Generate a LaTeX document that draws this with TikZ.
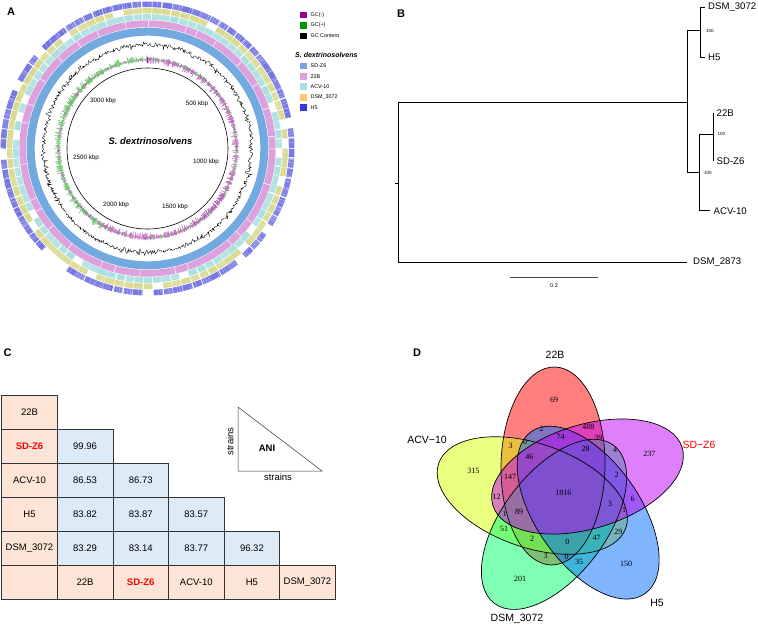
\documentclass[tikz,border=0pt]{standalone}
\usepackage{fontspec}
\setmainfont{Liberation Sans}
\newfontfamily\numfont{Liberation Serif}
\usepackage{tikz}
\usetikzlibrary{positioning,calc}
% legend colours
\definecolor{gcneg}{HTML}{990099}
\definecolor{gcpos}{HTML}{009900}
\definecolor{sdzc}{HTML}{7B9FE3}
\definecolor{tbc}{HTML}{E09EE0}
\definecolor{acvc}{HTML}{A7E0E6}
\definecolor{dsmc}{HTML}{FFC86E}
\definecolor{hfc}{HTML}{3434E8}
% ring colours
\definecolor{sdzring}{HTML}{72AADF}
\definecolor{tbring}{HTML}{DDA2DD}
\definecolor{acvring}{HTML}{A9DFDF}
\definecolor{dsmring}{HTML}{D9D98F}
\definecolor{hfring}{HTML}{7373E3}
\definecolor{skewneg}{HTML}{A010A0}
\definecolor{skewpos}{HTML}{20A820}
% table colours
\definecolor{peachc}{HTML}{FCE4D6}
\definecolor{anic}{HTML}{DDEBF7}
% venn colours
\definecolor{vred}{HTML}{FF0000}
\definecolor{vyel}{HTML}{D5FF00}
\definecolor{vgrn}{HTML}{00FF69}
\definecolor{vblu}{HTML}{0069FF}
\definecolor{vpur}{HTML}{C000F4}

\begin{document}
\begin{tikzpicture}[x=1pt, y=-1pt,
  plab/.style={font=\bfseries\fontsize{11}{13}\selectfont, inner sep=0pt},
  kbp/.style={font=\fontsize{6.3}{7}\selectfont, inner sep=0pt},
  lsq/.style={minimum size=6.5pt, inner sep=0pt},
  ltx/.style={font=\fontsize{5.4}{6}\selectfont, inner sep=0pt},
  leaf/.style={font=\fontsize{9.6}{11}\selectfont, anchor=west, inner sep=0pt},
  boot/.style={font=\fontsize{4.5}{5}\selectfont, anchor=west, inner sep=0pt},
  hdr/.style={draw=black!80, line width=0.6pt, fill=peachc, minimum width=55.6pt,
              minimum height=33.9pt, inner sep=0pt, font=\fontsize{9.5}{11}\selectfont},
  val/.style={hdr, fill=anic},
  vn/.style={font=\numfont\fontsize{8}{9}\selectfont, inner sep=0pt},
  vl/.style={font=\fontsize{10.5}{12}\selectfont, inner sep=0pt}]
\useasboundingbox (0,0) rectangle (758,627);

% ---------------- A: circular genome map
\node[plab] (pa) at (11,12) {A};
\begin{scope}[shift={(147.5,148.5)}]
  \draw[sdzring, line width=8pt] (0,0) circle[radius=116.8];
  \draw[tbring, line width=6.8pt] (0,0) circle[radius=124.8];
  \pgfmathsetseed{23}
  \foreach \t in {0,12,...,359}{
    \pgfmathsetmacro\q{\t+12*rnd}
    \draw[white, line width=0.5pt] (\q:121.4) -- (\q:128.2);}
  % comparison rings: blocks with thin white seams
  \foreach \rr/\ww/\cc/\pp in {131.6/5.6/acvring/0.07, 137.8/5.4/dsmring/0.13, 144.2/5.6/hfring/0.1}{
    \foreach \t in {0,4,...,356}{
      \pgfmathsetmacro\q{rnd}
      \pgfmathsetmacro\o{0.85+0.15*rnd}
      \pgfmathsetmacro\e{\t+3.4+0.55*rnd}
      \ifdim\q pt>\pp pt
        \draw[\cc, line width=\ww pt, draw opacity=\o] (\t:\rr) arc[start angle=\t, end angle=\e, radius=\rr];
      \fi}}
  % light streaks in the outer ring
  \foreach \t in {0,1.1,...,359}{
    \pgfmathsetmacro\q{rnd}
    \ifdim\q pt>0.5pt
      \draw[white, line width=0.3pt, opacity=0.6] (\t:141.6) -- (\t:146.8);
    \fi}
  % GC skew
  \foreach \t in {-90,-89.6,...,269.6}{
    \pgfmathsetmacro\v{(\t<120 ? -0.25 : 0.25)+0.75*rand}
    \pgfmathsetmacro\l{2+5*abs(\v)}
    \ifdim\v pt<0pt
      \draw[skewneg, line width=0.3pt] (\t:{91-\l}) -- (\t:{89+0.4*\l});
    \else
      \draw[skewpos, line width=0.3pt] (\t:{89-0.4*\l}) -- (\t:{87+\l});
    \fi}
  % GC content
  \draw[black, line width=0.35pt] plot[domain=0:360, samples=720, variable=\t]
        (\t:{104+1.8*rand+3*rand^5}) -- cycle;
  \draw[line width=0.6pt] (0,0) circle[radius=80.5];
\end{scope}
\node[font=\bfseries\itshape\fontsize{9.4}{11}\selectfont] (title) at (150.5,141) {S. dextrinosolvens};
\node[kbp] (k500) at (197,104) {500 kbp};
\node[kbp] (k1000) at (206,162) {1000 kbp};
\node[kbp] (k1500) at (175,207) {1500 kbp};
\node[kbp] (k2000) at (116,205) {2000 kbp};
\node[kbp] (k2500) at (86,158) {2500 kbp};
\node[kbp] (k3000) at (103,101) {3000 kbp};
% legend
\foreach \y/\c/\t [count=\i] in {15/gcneg/GC(-), 25.5/gcpos/GC(+), 36/black/GC Content,
    66/sdzc/SD-Z6, 76.3/tbc/22B, 86.7/acvc/ACV-10, 97.3/dsmc/DSM\_3072, 107.5/hfc/H5}{
  \node[lsq, fill=\c] (sq\i) at (303.5,\y) {};
  \node[ltx, right=3.5pt of sq\i] (lt\i) {\t};
}
\node[font=\bfseries\itshape\fontsize{7}{8}\selectfont, anchor=west, inner sep=0pt] (lhd) at (295,55) {S. dextrinosolvens};

% ---------------- B: tree
\node[plab] (pb) at (401,14) {B};
\coordinate (rtk) at (395,183);
\coordinate (rt) at (398.3,183);
\coordinate (n1) at (687.3,102.3);
\coordinate (n2) at (700.7,30.7);
\coordinate (n3) at (699,172.3);
\coordinate (n4) at (713.3,134);
\coordinate (t3072) at (705,7);
\coordinate (th5) at (705,57);
\coordinate (t22b) at (713.3,113.3);
\coordinate (tsdz) at (713.3,161);
\coordinate (tacv) at (710,210.7);
\coordinate (t2873) at (686.7,262.3);
\draw[line width=0.8pt] (rtk) -- (rt);
\draw[line width=0.8pt] (rt) |- (n1);
\draw[line width=0.8pt] (rt) |- (t2873);
\draw[line width=0.8pt] (n1) |- (n2);
\draw[line width=0.8pt] (n1) |- (n3);
\draw[line width=0.8pt] (n2) |- (t3072);
\draw[line width=0.8pt] (n2) |- (th5);
\draw[line width=0.8pt] (n3) |- (n4);
\draw[line width=0.8pt] (n3) |- (tacv);
\draw[line width=0.8pt] (n4) |- (t22b);
\draw[line width=0.8pt] (n4) |- (tsdz);
\node[leaf] (l3072) at (708,7) {DSM\_3072};
\node[leaf] (lh5) at (708,57) {H5};
\node[leaf] (l22b) at (716.5,113.3) {22B};
\node[leaf] (lsdz) at (716.5,161) {SD-Z6};
\node[leaf] (lacv) at (713.5,210.7) {ACV-10};
\node[leaf] (l2873) at (693,262.3) {DSM\_2873};
\node[boot] (b1) at (706,30.5) {100};
\node[boot] (b2) at (717.5,133.5) {100};
\node[boot] (b3) at (704,173) {100};
\coordinate (sb1) at (510,277.7);
\coordinate (sb2) at (598,277.7);
\draw[line width=0.5pt, black!70] (sb1) -- (sb2);
\node[font=\fontsize{5.5}{6}\selectfont] (sbl) at (554,285.5) {0.2};

% ---------------- C: ANI table
\node[plab] (pc) at (7.5,352.5) {C};
\foreach \r/\t in {0/22B, 1/{\textcolor{red}{\bfseries SD-Z6}}, 2/ACV-10, 3/H5, 4/DSM\_3072, 5/{}}
  \node[hdr] (h\r) at (29.5,{395.7+33.9*(\r+0.5)}) {\t};
\foreach \c/\t in {1/22B, 2/{\textcolor{red}{\bfseries SD-Z6}}, 3/ACV-10, 4/H5, 5/DSM\_3072}
  \node[hdr] (f\c) at ({1.7+55.6*(\c+0.5)},582.5) {\t};
\foreach \r/\c/\v in {1/1/99.96, 2/1/86.53, 2/2/86.73, 3/1/83.82, 3/2/83.87, 3/3/83.57,
    4/1/83.29, 4/2/83.14, 4/3/83.77, 4/4/96.32}
  \node[val] (v\r\c) at ({1.7+55.6*(\c+0.5)},{395.7+33.9*(\r+0.5)}) {\v};
\coordinate (ta) at (238,407);
\coordinate (tb) at (238,471);
\coordinate (tc) at (322,471);
\draw[line width=0.5pt, black!80] (ta) -- (tb) -- (tc) -- cycle;
\node[rotate=90, font=\fontsize{9.5}{11}\selectfont, inner sep=0pt] (sy) at (230,441.5) {strains};
\node[font=\bfseries\fontsize{9.5}{11}\selectfont, inner sep=0pt] (ani) at (267,448) {ANI};
\node[font=\fontsize{9.5}{11}\selectfont, inner sep=0pt] (sx) at (278,477) {strains};

% ---------------- D: Venn diagram
\node[plab] (pd) at (417,353) {D};
\begin{scope}[shift={(563,495)}]
  \foreach \d/\c in {0/vred, 72/vyel, 144/vgrn, 216/vblu, 288/vpur}
    \fill[\c, fill opacity=0.5] ({-109-\d}:30.7) ellipse[x radius=99, y radius=52, rotate=89+\d];
  \foreach \d in {0,72,...,288}
    \draw[line width=0.7pt] ({-109-\d}:30.7) ellipse[x radius=99, y radius=52, rotate=89+\d];
\end{scope}
\node[vl] (v22b) at (555,355) {22B};
\node[vl] (vacv) at (427,440) {ACV−10};
\node[vl, text=red] (vsdz) at (699,445) {SD−Z6};
\node[vl] (vh5) at (657,603) {H5};
\node[vl] (v3072) at (517,619) {DSM\_3072};
\foreach \x/\y/\n [count=\i] in {554/400/69, 541.7/429.3/2, 588.3/427.3/488, 525/441.7/0,
    560.7/436.7/74, 598.3/438.3/39, 510.7/446/3, 585.7/449/28, 615/450/4, 649.3/454/237,
    529.3/456.7/46, 473.3/471/315, 510/476.7/147, 616.7/475/2, 563.3/493.3/1816,
    496.7/496.7/12, 632.7/499/6, 610/504/3, 624/510/1, 504.3/514.3/1, 519/512.3/89,
    504/529/51, 532/539/2, 567.3/541.7/0, 596.7/538.3/47, 618.3/531.7/29, 545.7/555.7/3,
    566.7/556.7/0, 579/561.7/35, 626/564/150, 520/579.3/201}
  \node[vn] (r\i) at (\x,\y) {\n};
\end{tikzpicture}
\end{document}
